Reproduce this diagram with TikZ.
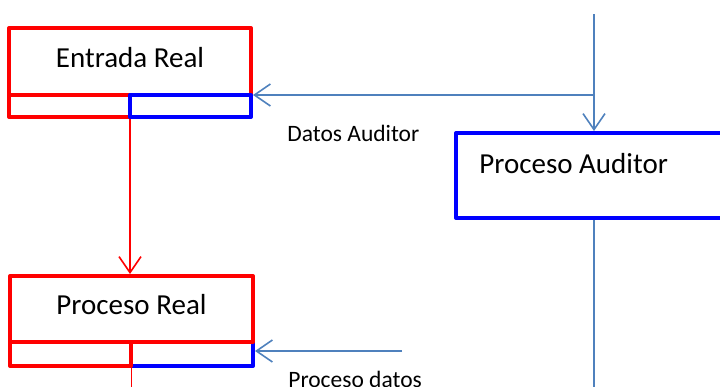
\documentclass[tikz,border=0pt]{standalone}
\usepackage{fontspec}
\setmainfont{Carlito}
\usetikzlibrary{arrows.meta}
\definecolor{linkblue}{RGB}{79,129,189}
\tikzset{every picture/.style={line width=0.75pt}}
\tikzset{
frame/.style={line width=4pt, line join=round, inner sep=0pt, outer sep=2pt},
stage/.style={frame, draw=red, text height=20pt, text depth=9pt, font=\fontsize{29}{34}\selectfont},
cellred/.style={frame, draw=red},
cellblue/.style={frame, draw=blue},
link/.style={draw=linkblue, line width=1.6pt, -{Straight Barb[length=16pt,width=22pt]}},
redlink/.style={link, draw=red},
tag/.style={anchor=base west, inner sep=0pt, font=\fontsize{23.5}{28}\selectfont}}

\begin{document}
\begin{tikzpicture}[x=1pt,y=1pt,yscale=-1,xscale=1]
\useasboundingbox (0,0) rectangle (720,386);

%Shape: Rectangle [Entrada Real]
\node[stage, minimum width=242pt, minimum height=67pt] (entrada) at (130,61.5) {Entrada Real};
\node[cellred, minimum width=121pt, minimum height=22pt] (entradaL) at (69.5,106) {};
\node[cellblue, minimum width=121pt, minimum height=22pt] (entradaR) at (190.5,106) {};

%Shape: Rectangle [Proceso Real]
\node[cellblue, minimum width=122pt, minimum height=24pt] (realR) at (192,354) {};
\node[stage, minimum width=243pt, minimum height=66pt] (real) at (131.5,309) {Proceso Real};
\node[cellred, minimum width=121pt, minimum height=24pt] (realL) at (70.5,354) {};

%Shape: Rectangle [Proceso Auditor]
\node[cellblue, minimum width=300pt, minimum height=85pt] (auditor) at (606,175.5) {};
\node[anchor=base west, inner sep=0pt, font=\fontsize{29}{34}\selectfont] (audtxt) at (479,173) {Proceso Auditor};

\coordinate (audIn) at (594,14);
\coordinate (junction) at (594,95);
\coordinate (datosIn) at (402,351);
\coordinate (bottom) at (0,392);

%Straight Lines
\draw[link] (audIn) -- (audIn |- auditor.north);
\draw[link] (junction) -- (junction -| entradaR.east);
\draw[link, -] (audIn |- auditor.south) -- (audIn |- bottom);
\draw[link] (datosIn) -- (datosIn -| realR.east);
\draw[redlink] (entrada.south |- entradaL.south) -- (entrada.south |- real.north);
\draw[redlink, -] (real.south |- realL.south) -- (real.south |- bottom);

\node[tag] (datosAud) at (287,141) {Datos Auditor};
\node[tag] (datosProc) at (288,387) {Proceso datos};

\end{tikzpicture}
\end{document}
